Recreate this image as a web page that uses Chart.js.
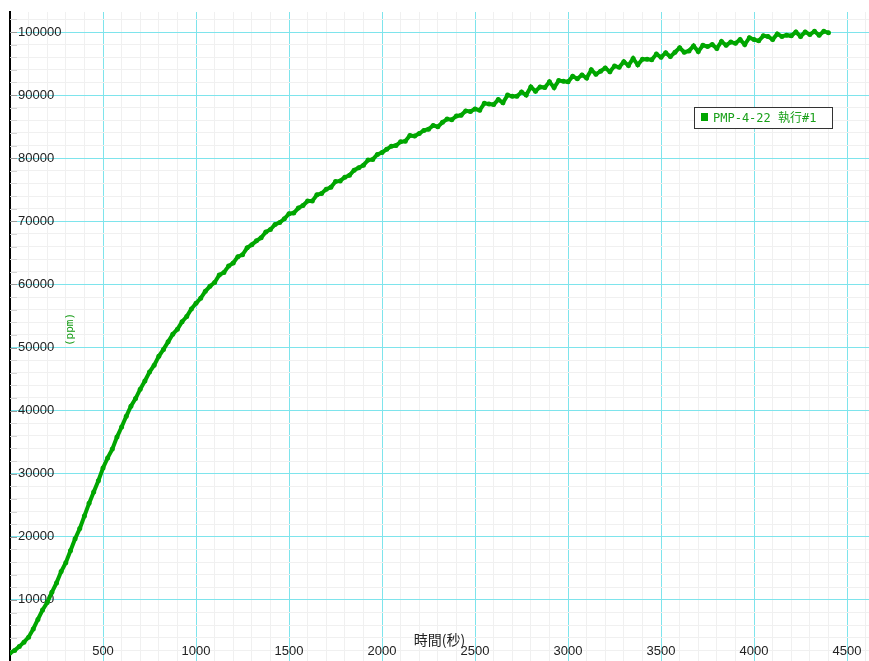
<!DOCTYPE html>
<html>
<head>
<meta charset="utf-8">
<title>PMP-4-22</title>
<script src="https://cdn.jsdelivr.net/npm/chart.js@4.4.1/dist/chart.umd.min.js"></script>
<style>
  html, body { margin: 0; padding: 0; background: #fff; }
  canvas { display: block; }
</style>
</head>
<body>
<canvas id="ppmChart" width="869" height="661"></canvas>
<script>
// -------------------- Data --------------------
const seriesName = 'PMP-4-22 執行#1';
const xTitle = '時間(秒)';
const yTitle = '(ppm)';

// sample times (s)
const timeSec = [
  0, 25, 50, 75, 100, 125, 150, 175, 200, 225, 250, 275, 300, 325, 350, 375, 400, 425, 450, 475,
  500, 525, 550, 575, 600, 625, 650, 675, 700, 725, 750, 775, 800, 825, 850, 875, 900, 925, 950, 975,
  1000, 1025, 1050, 1075, 1100, 1125, 1150, 1175, 1200, 1225, 1250, 1275, 1300, 1325, 1350, 1375, 1400, 1425, 1450, 1475,
  1500, 1525, 1550, 1575, 1600, 1625, 1650, 1675, 1700, 1725, 1750, 1775, 1800, 1825, 1850, 1875, 1900, 1925, 1950, 1975,
  2000, 2025, 2050, 2075, 2100, 2125, 2150, 2175, 2200, 2225, 2250, 2275, 2300, 2325, 2350, 2375, 2400, 2425, 2450, 2475,
  2500, 2525, 2550, 2575, 2600, 2625, 2650, 2675, 2700, 2725, 2750, 2775, 2800, 2825, 2850, 2875, 2900, 2925, 2950, 2975,
  3000, 3025, 3050, 3075, 3100, 3125, 3150, 3175, 3200, 3225, 3250, 3275, 3300, 3325, 3350, 3375, 3400, 3425, 3450, 3475,
  3500, 3525, 3550, 3575, 3600, 3625, 3650, 3675, 3700, 3725, 3750, 3775, 3800, 3825, 3850, 3875, 3900, 3925, 3950, 3975,
  4000, 4025, 4050, 4075, 4100, 4125, 4150, 4175, 4200, 4225, 4250, 4275, 4300, 4325, 4350, 4375, 4400
];

// concentration (ppm)
const ppm = [
  1600, 2000, 2600, 3300, 4100, 5400, 6900, 8400, 9600, 11200, 12700, 14500, 15900, 17800, 19700, 21300, 23300, 25300, 27100, 28900,
  30900, 32500, 33900, 35800, 37400, 39100, 40700, 41900, 43400, 44700, 46100, 47200, 48600, 49700, 50900, 52100, 52900, 54100, 54900, 56100,
  57000, 57800, 58900, 59700, 60300, 61500, 61900, 62900, 63400, 64400, 64700, 65800, 66300, 66900, 67400, 68300, 68700, 69500, 69800, 70400,
  71200, 71300, 72100, 72500, 73200, 73200, 74200, 74400, 75100, 75400, 76300, 76400, 77000, 77300, 78100, 78500, 78900, 79700, 79800, 80600,
  80900, 81400, 81900, 82000, 82600, 82700, 83600, 83500, 83900, 84400, 84600, 85200, 85000, 85700, 86200, 86100, 86700, 86800, 87500, 87400,
  87800, 87600, 88700, 88600, 88500, 89300, 88800, 90000, 89800, 89800, 90500, 90000, 91300, 90600, 91300, 91200, 92100, 91200, 92300, 92200,
  92100, 93000, 92600, 93200, 92700, 94000, 93300, 93800, 94300, 93700, 94600, 94400, 95300, 94700, 95800, 94800, 95700, 95700, 95600, 96500,
  96000, 96700, 96100, 96800, 97500, 96800, 97000, 97800, 96900, 97900, 97700, 98000, 97400, 98500, 97900, 98400, 98200, 98800, 98000, 99100,
  98800, 98600, 99400, 99300, 98800, 99700, 99300, 99500, 99400, 100000, 99300, 100000, 99600, 100100, 99500, 100100, 99900
];

// axis ranges and tick steps
const xRange = [0, 4618];
const yRange = [320, 103170];
const xMinorStep = 100, xMajorStep = 500;
const yMinorStep = 2000, yMajorStep = 10000;

function stepValues(range, step) {
  const out = [];
  for (let v = Math.ceil(range[0] / step) * step; v <= range[1]; v += step) out.push({ value: v });
  return out;
}

// -------------------- Styles --------------------
const lineGreen = '#00a600';
const majorGrid = '#7ee4ec';
const minorGrid = '#f0f0f0';
const tickFont = { family: '"Liberation Sans", Arial, sans-serif', size: 13 };

// -------------------- Overlay: axis titles, tick marks, legend --------------------
const overlayPlugin = {
  id: 'overlay',
  beforeDatasetsDraw(chart) {
    const { ctx, chartArea, scales } = chart;
    ctx.save();

    // short tick marks on the inside of the y axis
    scales.y.ticks.forEach(t => {
      const py = Math.round(scales.y.getPixelForValue(t.value)) + 0.5;
      const major = t.value % yMajorStep === 0;
      ctx.strokeStyle = major ? '#9a9a9a' : '#d4d4d4';
      ctx.lineWidth = 1;
      ctx.beginPath();
      ctx.moveTo(chartArea.left, py);
      ctx.lineTo(chartArea.left + 7, py);
      ctx.stroke();
    });

    // x title
    ctx.fillStyle = '#222';
    ctx.font = '14px "Noto Sans CJK TC", "Noto Sans CJK JP", sans-serif';
    ctx.textAlign = 'center';
    ctx.textBaseline = 'middle';
    ctx.fillText(xTitle, (chartArea.left + chartArea.right) / 2, chartArea.bottom - 21);

    // y title, rotated, green
    ctx.translate(chartArea.left + 60, (chartArea.top + chartArea.bottom) / 2 - 7);
    ctx.rotate(-Math.PI / 2);
    ctx.fillStyle = '#119911';
    ctx.font = '11px "DejaVu Sans Mono", monospace';
    ctx.fillText(yTitle, 0, 0);
    ctx.restore();
  },
  afterDraw(chart) {
    const { ctx, chartArea } = chart;
    const bx = chartArea.right - 175, by = 107, bw = 138, bh = 21;
    ctx.save();
    ctx.fillStyle = '#fff';
    ctx.fillRect(bx, by, bw, bh);
    ctx.strokeStyle = '#333';
    ctx.lineWidth = 1;
    ctx.strokeRect(bx + 0.5, by + 0.5, bw, bh);
    ctx.fillStyle = lineGreen;
    ctx.fillRect(bx + 7, by + 6, 7, 8);
    ctx.fillStyle = '#1aa01a';
    ctx.font = '12px "DejaVu Sans Mono", "Noto Sans CJK TC", monospace';
    ctx.textAlign = 'left';
    ctx.textBaseline = 'middle';
    ctx.fillText(seriesName, bx + 19, by + bh / 2 + 1);
    ctx.restore();
  }
};

// -------------------- Chart --------------------
const points = timeSec.map((t, i) => ({ x: t, y: ppm[i] }));

new Chart(document.getElementById('ppmChart'), {
  type: 'line',
  data: {
    datasets: [{
      label: seriesName,
      data: points,
      borderColor: lineGreen,
      backgroundColor: lineGreen,
      borderWidth: 4,
      pointRadius: 2.5,
      pointBorderWidth: 0,
      pointBackgroundColor: lineGreen,
      tension: 0,
      fill: false
    }]
  },
  options: {
    responsive: false,
    animation: false,
    layout: { autoPadding: false, padding: { left: 10, top: 12, right: 0, bottom: 0 } },
    plugins: {
      legend: { display: false },
      tooltip: { enabled: false }
    },
    scales: {
      x: {
        type: 'linear',
        min: xRange[0],
        max: xRange[1],
        border: { display: false },
        grid: {
          color: c => (c.tick && c.tick.value % xMajorStep === 0) ? majorGrid : minorGrid,
          lineWidth: 1,
          drawTicks: false
        },
        ticks: {
          autoSkip: false,
          maxRotation: 0,
          mirror: true,
          padding: 2,
          color: '#222',
          font: tickFont,
          callback: v => (v > 0 && v % xMajorStep === 0) ? String(v) : ''
        },
        afterBuildTicks: s => { s.ticks = stepValues(xRange, xMinorStep); },
        afterFit: s => { s.height = 0; s.paddingLeft = 0; s.paddingRight = 0; }
      },
      y: {
        type: 'linear',
        min: yRange[0],
        max: yRange[1],
        border: { color: '#000', width: 2 },
        grid: {
          color: c => (c.tick && c.tick.value % yMajorStep === 0) ? majorGrid : minorGrid,
          lineWidth: 1,
          drawTicks: false
        },
        ticks: {
          autoSkip: false,
          mirror: true,
          padding: 8,
          color: '#222',
          font: tickFont,
          callback: v => (v % yMajorStep === 0) ? String(v) : ''
        },
        afterBuildTicks: s => { s.ticks = stepValues(yRange, yMinorStep); },
        afterFit: s => { s.width = 0; s.paddingTop = 0; s.paddingBottom = 0; }
      }
    }
  },
  plugins: [overlayPlugin]
});
</script>
</body>
</html>
